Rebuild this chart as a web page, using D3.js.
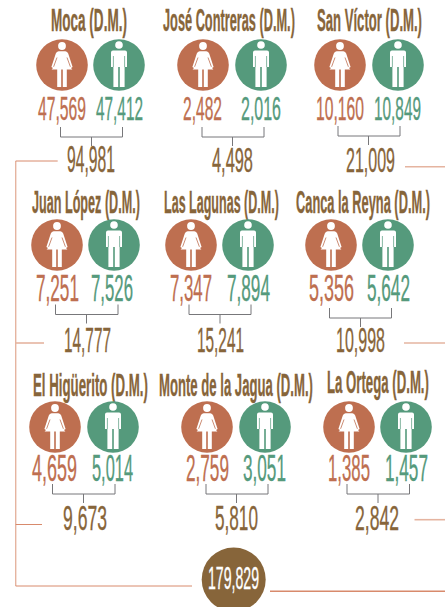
<!DOCTYPE html>
<html>
<head>
<meta charset="utf-8">
<script src="https://cdn.jsdelivr.net/npm/d3@7"></script>
<style>
  html, body { margin: 0; padding: 0; background: #fff; overflow: hidden; }
  text { font-family: "Liberation Sans Narrow", "Liberation Sans", sans-serif; }
</style>
</head>
<body>
<script>
// values
var places = ['Moca (D.M.)', 'José Contreras (D.M.)', 'San Víctor (D.M.)',
  'Juan López (D.M.)', 'Las Lagunas (D.M.)', 'Canca la Reyna (D.M.)',
  'El Higüerito (D.M.)', 'Monte de la Jagua (D.M.)', 'La Ortega (D.M.)'];
var women = [47569, 2482, 10160, 7251, 7347, 5356, 4659, 2759, 1385];
var men = [47412, 2016, 10849, 7526, 7894, 5642, 5014, 3051, 1457];
var totals = [94981, 4498, 21009, 14777, 15241, 10998, 9673, 5810, 2842];
var grandTotal = 179829;

// layout, one entry per place: [left, right] of each text, circle centres
var titleSpan = [[51, 127], [163, 295], [317, 422], [32, 140], [164, 279], [296, 430], [33, 148], [159, 313], [327, 429]];
var womenSpan = [[38, 86], [183, 222], [316, 364], [36, 79], [170, 212], [309, 354], [32, 77], [186, 229], [328, 370]];
var menSpan = [[96, 143], [241, 281], [374, 421], [91, 133], [227, 270], [367, 410], [92, 133], [243, 286], [385, 428]];
var totalSpan = [[67, 115], [212, 253], [346, 395], [64, 111], [197, 244], [336, 385], [63, 107], [215, 258], [355, 399]];
var womanX = [62, 203, 340, 57, 191, 331, 55, 207, 349];
var manX = [119, 261, 398, 114, 248, 388, 113, 265, 406];
var bracketX = [[60.5, 122.5], [202, 264], [338, 400], [55.5, 118], [189, 251], [329.5, 391.5], [52.5, 115], [206, 268], [347, 409.5]];
var stemX = [91.5, 232.5, 368.5, 86.5, 220, 360.5, 83.5, 236.5, 378];
var bracketTop = [127, 127, 126, 304.5, 304.5, 308, 484, 484, 484];

var titleY = [31, 31, 31, 213, 213, 213, 396, 396, 393];
var circleY = [65, 65, 65, 245, 245, 245, 427, 427, 427];
var numberY = [119.5, 119.5, 119.5, 301, 301, 301, 480.5, 480.5, 480.5];
var numberSize = [34, 34, 34, 37, 37, 37, 37, 37, 37];
var totalY = [171.5, 171.5, 171.5, 352, 352, 352, 530, 530, 530];

var width = 445, height = 607;
var RUST = '#be6f50', GREEN = '#559a7c', BROWN = '#87653a', GREY = '#77777a', LINE = '#d88a6c', PALE = '#e5b4a0';
var fmt = d3.format(',');

var svg = d3.select('body').append('svg')
  .attr('width', width)
  .attr('height', height);

// connector lines, drawn first so the big circle sits over them
var connectors = [
  {x1: 15.7, y1: 161, x2: 15.7, y2: 586, c: PALE, w: 1.4},
  {x1: 15.7, y1: 161, x2: 57.7, y2: 161, c: LINE, w: 1},
  {x1: 15.7, y1: 343, x2: 44, y2: 343, c: PALE, w: 1.6},
  {x1: 15.7, y1: 524.5, x2: 42, y2: 524.5, c: LINE, w: 1},
  {x1: 15.7, y1: 586, x2: 192, y2: 586, c: LINE, w: 1},
  {x1: 405, y1: 166.7, x2: 445, y2: 166.7, c: PALE, w: 1.6},
  {x1: 404, y1: 343, x2: 445, y2: 343, c: PALE, w: 1.6},
  {x1: 414.5, y1: 519.7, x2: 445, y2: 519.7, c: PALE, w: 1.6},
  {x1: 270, y1: 591.3, x2: 445, y2: 591.3, c: LINE, w: 1.4}
];

svg.selectAll('line.connector')
  .data(connectors)
  .enter()
  .append('line')
  .classed('connector', true)
  .attr('x1', function(d) { return d.x1; })
  .attr('y1', function(d) { return d.y1; })
  .attr('x2', function(d) { return d.x2; })
  .attr('y2', function(d) { return d.y2; })
  .style('stroke', function(d) { return d.c; })
  .style('stroke-width', function(d) { return d.w; });

// text squeezed into the span it has in the picture, horizontal scale only
var fitText = function(sel, label, span, y, size, color, weight) {
  var t = sel.append('text')
    .style('font-size', size + 'px')
    .style('font-weight', weight || 'normal')
    .style('fill', color)
    .style('stroke', color)
    .style('stroke-width', 0.35)
    .text(label);
  var sx = (span[1] - span[0]) / t.node().getComputedTextLength();
  t.attr('transform', 'translate(' + span[0] + ',' + y + ') scale(' + sx + ',1)');
  return t;
};

// silhouette in white, then thin slits in the badge colour for the arms
var womanIcon = function(g, color) {
  g.append('circle').attr('cy', -19).attr('r', 3.9);
  g.append('path').attr('d',
    'M-3.4,-13.8 L3.4,-13.8 Q5.4,-13.6 6.2,-11.6 L10.6,2 L9,3 L10.4,4.6 ' +
    'L4.8,4.6 L4.8,22 L0.8,22 L0.8,4.6 L-0.8,4.6 L-0.8,22 L-4.8,22 L-4.8,4.6 L-10.4,4.6 ' +
    'L-9,3 L-10.6,2 L-6.2,-11.6 Q-5.4,-13.6 -3.4,-13.8 Z');
  g.append('path')
    .attr('d', 'M-5,-7.5 L-8.4,1.8 M5,-7.5 L8.4,1.8')
    .style('fill', 'none')
    .style('stroke', color)
    .style('stroke-width', 0.8);
};

var manIcon = function(g, color) {
  g.append('circle').attr('cy', -20).attr('r', 3.8);
  g.append('path').attr('d',
    'M-6,-14.6 L6,-14.6 Q8,-14.6 8,-12.4 L8,2 L5.6,2 L5.6,22 L0.8,22 L0.8,2 ' +
    'L-0.8,2 L-0.8,22 L-5.6,22 L-5.6,2 L-8,2 L-8,-12.4 Q-8,-14.6 -6,-14.6 Z');
  g.append('path')
    .attr('d', 'M-5.6,-9 V2 M5.6,-9 V2')
    .style('fill', 'none')
    .style('stroke', color)
    .style('stroke-width', 0.7);
};

var blocks = svg.selectAll('g.place')
  .data(places)
  .enter()
  .append('g')
  .classed('place', true);

blocks.each(function(d, i) {
  var g = d3.select(this);

  fitText(g, d, titleSpan[i], titleY[i], 31, BROWN, 'bold');

  [[womanX[i], RUST, womanIcon], [manX[i], GREEN, manIcon]].forEach(function(p) {
    var badge = g.append('g')
      .attr('transform', 'translate(' + p[0] + ',' + circleY[i] + ')');
    badge.append('circle').attr('r', 25.8).style('fill', p[1]);
    var icon = badge.append('g').style('fill', '#fff');
    p[2](icon, p[1]);
  });

  fitText(g, fmt(women[i]), womenSpan[i], numberY[i], numberSize[i], RUST);
  fitText(g, fmt(men[i]), menSpan[i], numberY[i], numberSize[i], GREEN);

  var b = bracketX[i], top = bracketTop[i];
  g.append('path')
    .attr('d', 'M' + b[0] + ',' + top + 'V' + (top + 10) + 'H' + b[1] + 'V' + top +
      'M' + stemX[i] + ',' + (top + 10) + 'V' + (top + 19))
    .style('fill', 'none')
    .style('stroke', GREY)
    .style('stroke-width', 1);

  fitText(g, fmt(totals[i]), totalSpan[i], totalY[i], 36, BROWN);
});

svg.append('circle')
  .attr('cx', 233.7)
  .attr('cy', 579.5)
  .attr('r', 32)
  .style('fill', BROWN);

fitText(svg, fmt(grandTotal), [208, 259], 589, 31, '#fff');
</script>
</body>
</html>
